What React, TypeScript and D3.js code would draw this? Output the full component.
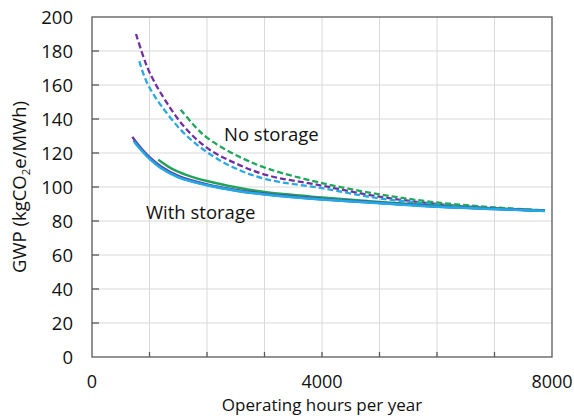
import React from "react";
import * as d3 from "d3";

type Pt = [number, number];

// Hours per year vs GWP (kgCO2e/MWh)
const purpleSolid: Pt[] = [[702,129.5],[800,125],[1000,117.5],[1200,112],[1500,106.5],[2000,101.5],[2500,98.3],[3000,96],[4000,93],[5000,90.8],[6000,88.6],[7000,87.2],[7878,86]];
const blueSolid: Pt[] = [[725,127.5],[800,124.3],[1000,117],[1200,111.5],[1500,106],[2000,101.2],[2500,98],[3000,95.8],[4000,92.8],[5000,90.6],[6000,88.5],[7000,87.1],[7878,86]];
const cyanSolid: Pt[] = [[735,126.5],[800,123.8],[1000,116.5],[1200,111],[1500,105.7],[2000,101],[2500,97.8],[3000,95.6],[4000,92.6],[5000,90.5],[6000,88.4],[7000,87],[7878,85.9]];
const greenSolid: Pt[] = [[1153,116],[1400,110.5],[1650,107],[2000,103.5],[2500,99.8],[3000,97],[4000,93.8],[5000,91.2],[6000,89],[7000,87.4],[7878,86.2]];

const purpleDashed: Pt[] = [[765,190],[900,176],[1000,167.5],[1200,155],[1590,136],[2000,123],[2460,114.5],[3040,107],[4000,100.8],[5000,94.3],[6000,90],[7000,87.4],[7878,86]];
const cyanDashed: Pt[] = [[823,174],[900,166],[1000,158.5],[1200,148],[1590,132],[2000,120.5],[2460,111.5],[3040,104.5],[4000,99.3],[5000,93.3],[6000,89.8],[7000,87.3],[7878,86]];
const greenDashed: Pt[] = [[1542,145.5],[1800,135.3],[2000,129],[2460,119.5],[3040,111],[4000,102.3],[5000,95.7],[6000,90.9],[7000,88],[7878,86.3]];

const xTickLabels = [0, 4000, 8000];
const xGrid = [1000, 2000, 3000, 4000, 5000, 6000, 7000];
const yTicks = [0, 20, 40, 60, 80, 100, 120, 140, 160, 180, 200];

const seriesList = [
  { name: "No storage purple", data: purpleDashed, color: "#7030A0", dashed: true },
  { name: "No storage cyan", data: cyanDashed, color: "#29A9E1", dashed: true },
  { name: "No storage green", data: greenDashed, color: "#1FA65A", dashed: true },
  { name: "Storage green", data: greenSolid, color: "#22A35A", dashed: false },
  { name: "Storage purple", data: purpleSolid, color: "#7030A0", dashed: false },
  { name: "Storage blue", data: blueSolid, color: "#2F6FC2", dashed: false },
  { name: "Storage cyan", data: cyanSolid, color: "#22A9E6", dashed: false },
];

const W = 574, H = 416;
const M = { left: 92, right: 552, top: 17, bottom: 357 };
const FONT = "'Open Sans', 'Noto Sans', sans-serif";
const FS = 18.5;

export default function App() {
  const x = d3.scaleLinear().domain([0, 8000]).range([M.left, M.right]);
  const y = d3.scaleLinear().domain([0, 200]).range([M.bottom, M.top]);
  const line = d3.line<Pt>().x(d => x(d[0])).y(d => y(d[1])).curve(d3.curveCatmullRom.alpha(0.5));
  const axisColor = "#595959";
  return (
    <svg width={W} height={H} style={{ position: "absolute", left: 0, top: 0, background: "#fff" }} fontFamily={FONT}>
      <rect x={0} y={0} width={W} height={H} fill="#fff" />
      {xGrid.map(v => (
        <line key={"gx" + v} x1={x(v)} x2={x(v)} y1={M.top} y2={M.bottom} stroke="#d9d9d9" strokeWidth={1} />
      ))}
      {yTicks.filter(v => v > 0 && v < 200).map(v => (
        <line key={"gy" + v} x1={M.left} x2={M.right} y1={y(v)} y2={y(v)} stroke="#d9d9d9" strokeWidth={1} />
      ))}
      <rect x={M.left} y={M.top} width={M.right - M.left} height={M.bottom - M.top} fill="none" stroke={axisColor} strokeWidth={1.3} />
      {xGrid.map(v => (
        <line key={"tx" + v} x1={x(v)} x2={x(v)} y1={M.bottom} y2={M.bottom - 5} stroke={axisColor} strokeWidth={1.3} />
      ))}
      {yTicks.filter(v => v > 0 && v < 200).map(v => (
        <line key={"ty" + v} x1={M.left} x2={M.left + 7} y1={y(v)} y2={y(v)} stroke={axisColor} strokeWidth={1.3} />
      ))}
      {seriesList.map(s => (
        <path key={s.name} d={line(s.data) || ""} fill="none" stroke={s.color}
          strokeWidth={s.dashed ? 2.3 : 2.5} strokeDasharray={s.dashed ? "6,3" : undefined} strokeLinecap="butt" />
      ))}
      {yTicks.map(v => (
        <text key={"yl" + v} x={73} y={y(v)} dy="0.36em" textAnchor="end" fontSize={FS} fill="#111">{v}</text>
      ))}
      {xTickLabels.map(v => (
        <text key={"xl" + v} x={x(v)} y={388} textAnchor="middle" fontSize={18} fill="#111">{v}</text>
      ))}
      <text x={(M.left + M.right) / 2} y={411.3} textAnchor="middle" fontSize={17} fill="#111">Operating hours per year</text>
      <text transform={`translate(26,${(M.top + M.bottom) / 2}) rotate(-90)`} textAnchor="middle" fontSize={FS} fill="#111">
        GWP (kgCO<tspan fontSize={11.5} dy="4">2</tspan><tspan dy="-4">e/MWh)</tspan>
      </text>
      <text x={224} y={141} fontSize={FS} fill="#111">No storage</text>
      <text x={146} y={219} fontSize={FS} fill="#111">With storage</text>
    </svg>
  );
}
